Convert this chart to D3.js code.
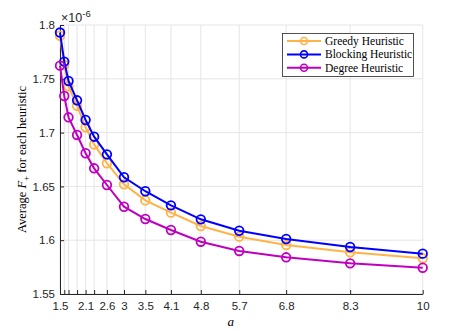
<!DOCTYPE html>
<html><head><meta charset="utf-8">
<script src="https://cdn.jsdelivr.net/npm/d3@7"></script>
<style>body{margin:0;background:#fff}svg{display:block}</style>
</head><body>
<svg id="c" width="467" height="331"></svg>
<script>
const aValues = [1.5, 1.6, 1.7, 1.9, 2.1, 2.3, 2.6, 3, 3.5, 4.1, 4.8, 5.7, 6.8, 8.3, 10];
const xTickLabels = ["1.5", "", "", "", "2.1", "", "2.6", "3", "3.5", "4.1", "4.8", "5.7", "6.8", "8.3", "10"];
const greedy   = [1.790, 1.763, 1.743, 1.725, 1.705, 1.689, 1.6715, 1.652, 1.637, 1.6256, 1.6132, 1.6033, 1.5955, 1.5888, 1.5832];
const blocking = [1.793, 1.766, 1.748, 1.730, 1.7117, 1.6962, 1.6798, 1.6585, 1.6455, 1.6324, 1.6194, 1.6088, 1.6011, 1.5937, 1.5875];
const degree   = [1.7622, 1.734, 1.7142, 1.6978, 1.6808, 1.6668, 1.6513, 1.6311, 1.6197, 1.6095, 1.5986, 1.590, 1.5841, 1.5785, 1.5744];
const yTicks = [1.55, 1.6, 1.65, 1.7, 1.75, 1.8];
const seriesNames = ["Greedy Heuristic", "Blocking Heuristic", "Degree Heuristic"];
const seriesColors = ["#FFB347", "#0000FF", "#BF00BF"];
const seriesData = [greedy, blocking, degree];

const svg = d3.select("#c");
const L = 60, R = 422.7, T = 25, B = 294;
const x = d3.scaleLinear().domain([1.5, 10]).range([L, R]);
const y = d3.scaleLinear().domain([1.55, 1.8]).range([B, T]);
const axisColor = "#262626";
const sans = "Helvetica, Arial, 'Liberation Sans', sans-serif";
const serif = "'Times New Roman', 'Liberation Serif', serif";

// grid
const g = svg.append("g");
g.selectAll(".vg").data(aValues).enter().append("line")
  .attr("x1", d => x(d)).attr("x2", d => x(d)).attr("y1", T).attr("y2", B)
  .attr("stroke", "#e5e5e5").attr("stroke-width", 1);
g.selectAll(".hg").data(yTicks).enter().append("line")
  .attr("x1", L).attr("x2", R).attr("y1", d => y(d)).attr("y2", d => y(d))
  .attr("stroke", "#e5e5e5").attr("stroke-width", 1);

// axes
const xAxis = d3.axisBottom(x).tickValues(aValues).tickSizeInner(-4).tickSizeOuter(0)
  .tickPadding(8).tickFormat((d, i) => xTickLabels[i]);
const xg = svg.append("g").attr("transform", `translate(0,${B})`).call(xAxis);
const yAxis = d3.axisLeft(y).tickValues(yTicks).tickSizeInner(-4).tickSizeOuter(0)
  .tickPadding(5).tickFormat(d3.format(""));
const yg = svg.append("g").attr("transform", `translate(${L},0)`).call(yAxis);
[xg, yg].forEach(a => {
  a.select(".domain").attr("stroke", axisColor).attr("stroke-width", 1);
  a.selectAll(".tick line").attr("stroke", axisColor);
  a.selectAll(".tick text").attr("fill", axisColor).style("font-family", sans).style("font-size", "11.5px");
});

// lines & markers
const line = d3.line().x((d, i) => x(aValues[i])).y(d => y(d));
seriesData.forEach((s, k) => {
  svg.append("path").datum(s).attr("d", line).attr("fill", "none")
    .attr("stroke", seriesColors[k]).attr("stroke-width", 2);
  svg.append("g").selectAll("circle").data(s).enter().append("circle")
    .attr("cx", (d, i) => x(aValues[i])).attr("cy", d => y(d)).attr("r", 4.3)
    .attr("fill", "none").attr("stroke", seriesColors[k]).attr("stroke-width", 1.8);
});

// exponent
const ex = svg.append("text").attr("x", 61).attr("y", 22).attr("fill", axisColor)
  .style("font-family", sans).style("font-size", "12.5px");
ex.append("tspan").text("×10");
ex.append("tspan").attr("dy", -5).style("font-size", "9.5px").text("-6");

// axis labels
svg.append("text").attr("x", x(5.5)).attr("y", 326).attr("text-anchor", "middle")
  .style("font-family", serif).style("font-style", "italic").style("font-size", "13px").text("a");
const yl = svg.append("text").attr("transform", `translate(26,${(T + B) / 2}) rotate(-90)`)
  .attr("text-anchor", "middle").style("font-family", serif).style("font-size", "12.5px");
yl.append("tspan").text("Average ");
yl.append("tspan").style("font-style", "italic").text("F");
yl.append("tspan").attr("dy", 3).style("font-size", "9px").text("+");
yl.append("tspan").attr("dy", -3).text(" for each heuristic");

// legend
const lg = svg.append("g");
lg.append("rect").attr("x", 282.5).attr("y", 33.5).attr("width", 131).attr("height", 43)
  .attr("fill", "#fff").attr("stroke", "#262626").attr("stroke-width", 0.8);
seriesNames.forEach((n, k) => {
  const yy = 41 + k * 13.4;
  lg.append("line").attr("x1", 287).attr("x2", 321).attr("y1", yy).attr("y2", yy)
    .attr("stroke", seriesColors[k]).attr("stroke-width", 2);
  lg.append("circle").attr("cx", 304).attr("cy", yy).attr("r", 3.5).attr("fill", "none")
    .attr("stroke", seriesColors[k]).attr("stroke-width", 1.6);
  lg.append("text").attr("x", 325).attr("y", yy + 4).style("font-family", serif)
    .style("font-size", "11.5px").attr("fill", "#000").text(n);
});
</script>
</body></html>
